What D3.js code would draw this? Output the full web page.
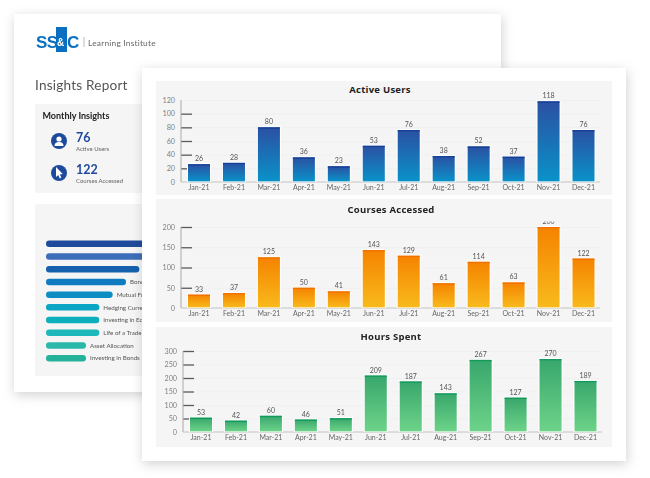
<!DOCTYPE html>
<html>
<head>
<meta charset="utf-8">
<script src="https://cdn.jsdelivr.net/npm/d3@7"></script>
<style>
html, body { margin: 0; padding: 0; background: #fff; }
svg { display: block; font-family: "Lato", sans-serif; filter: blur(0.3px); }
.axis path { display: none; }
.val { fill: #555; font-size: 7px; text-anchor: middle; }
.cat { fill: #666; font-size: 7px; text-anchor: middle; }
.title { fill: #222; font-size: 9.5px; font-weight: 700; letter-spacing: .25px; text-anchor: middle; font-family: "Open Sans", sans-serif; }
</style>
</head>
<body>
<svg id="chart" width="650" height="478"></svg>
<script>
var months = ["Jan-21","Feb-21","Mar-21","Apr-21","May-21","Jun-21","Jul-21","Aug-21","Sep-21","Oct-21","Nov-21","Dec-21"];
var activeUsers = [26,28,80,36,23,53,76,38,52,37,118,76];
var coursesAccessed = [33,37,125,50,41,143,129,61,114,63,200,122];
var hoursSpent = [53,42,60,46,51,209,187,143,267,127,270,189];

var courseNames = ["","","","Bonds","Mutual Funds","Hedging Currency","Investing in Equities","Life of a Trade","Asset Allocation","Investing in Bonds"];
var courseValues = [9,8,7,6,5,4,4,4,3,3];
var courseColors = ["#1f4b9c","#3d6eb9","#1561ae","#0f7bc0","#0d8dc4","#0ba5c6","#0bafbe","#1eb7ba","#2ab8a9","#25b299"];

var svg = d3.select("#chart");
var defs = svg.append("defs");

var shadow = defs.append("filter").attr("id","shadow")
  .attr("x","-10%").attr("y","-10%").attr("width","120%").attr("height","120%");
shadow.append("feDropShadow").attr("dx",1).attr("dy",3).attr("stdDeviation",6)
  .attr("flood-color","#000").attr("flood-opacity",.18);

function gradient(id, top, bottom) {
  var g = defs.append("linearGradient").attr("id",id).attr("x1",0).attr("y1",0).attr("x2",0).attr("y2",1);
  g.append("stop").attr("offset","0%").attr("stop-color",top);
  g.append("stop").attr("offset","100%").attr("stop-color",bottom);
}
gradient("blue","#2b50a3","#0a92c8");
gradient("orange","#f58300","#f8ba1c");
gradient("green","#38a76c","#6dd389");

// back page
svg.append("rect").attr("x",14).attr("y",14).attr("width",487).attr("height",378)
  .attr("fill","#fff").attr("filter","url(#shadow)");

// logo
svg.append("rect").attr("x",56).attr("y",27).attr("width",11).attr("height",25).attr("fill","#0a6fc0");
svg.append("text").attr("x",36).attr("y",48).attr("fill","#0a6fc0")
  .style("font-size","17px").style("font-weight",700).style("font-family","Liberation Sans").style("letter-spacing","-.6px").text("SS");
svg.append("text").attr("x",57).attr("y",46).attr("fill","#fff")
  .style("font-size","10px").style("font-weight",700).style("font-family","Liberation Sans").text("&");
svg.append("text").attr("x",67).attr("y",48).attr("fill","#0a6fc0")
  .style("font-size","17px").style("font-weight",700).style("font-family","Liberation Sans").text("C");
svg.append("line").attr("x1",84).attr("x2",84).attr("y1",37).attr("y2",47).attr("stroke","#bbb");
svg.append("text").attr("x",88).attr("y",45.5).attr("fill","#666").style("font-size","8.4px").style("letter-spacing",".2px").text("Learning Institute");

svg.append("text").attr("x",35).attr("y",90).attr("fill","#555").style("font-size","13.6px").style("letter-spacing",".2px").text("Insights Report");

// monthly insights panel
svg.append("rect").attr("x",35).attr("y",104).attr("width",440).attr("height",89).attr("fill","#f5f5f5");
svg.append("text").attr("x",42.5).attr("y",119).attr("fill","#222").style("font-size","9px").style("font-weight",700).text("Monthly Insights");

[[141,"76","Active Users"],[173,"122","Courses Accessed"]].forEach(function(d, i) {
  svg.append("circle").attr("cx",59).attr("cy",d[0]).attr("r",8).attr("fill","#1d4a9d");
  if (i == 0) {
    svg.append("circle").attr("cx",59).attr("cy",d[0]-2).attr("r",2.6).attr("fill","#fff");
    svg.append("path").attr("d","M54.5 146 q0 -4 4.5 -4 q4.5 0 4.5 4 z").attr("fill","#fff");
  } else {
    svg.append("path").attr("d","M56 167 l0 10 l2.2 -2 l1.6 3.4 l1.6 -.8 l-1.6 -3.2 l3 -.4 z").attr("fill","#fff");
  }
  svg.append("text").attr("x",76).attr("y",d[0]+.5).attr("fill","#1d4a9d").style("font-size","12.5px").style("font-weight",700).text(d[1]);
  svg.append("text").attr("x",76).attr("y",d[0]+9.5).attr("fill","#666").style("font-size","6px").text(d[2]);
});

// course list panel
svg.append("rect").attr("x",35).attr("y",204).attr("width",440).attr("height",172).attr("fill","#f5f5f5");
var courseX = d3.scaleLinear().domain([0,3]).range([46,86]);
var courseY = d3.scaleBand().domain(d3.range(courseValues.length)).range([237.5,364.5]);
svg.append("g").selectAll("rect").data(courseValues).enter().append("rect")
  .attr("x",courseX(0))
  .attr("y",function(d,i){ return courseY(i)+courseY.bandwidth()/2-3.25; })
  .attr("width",function(d){ return courseX(d)-courseX(0); })
  .attr("height",6.5).attr("rx",3.25)
  .attr("fill",function(d,i){ return courseColors[i]; });
svg.append("g").selectAll("text").data(courseValues).enter().append("text")
  .attr("x",function(d){ return courseX(d)+4; })
  .attr("y",function(d,i){ return courseY(i)+courseY.bandwidth()/2+2.3; })
  .attr("fill","#555").style("font-size","6.2px")
  .text(function(d,i){ return courseNames[i]; });

// front page
svg.append("rect").attr("x",142).attr("y",68).attr("width",484).attr("height",393)
  .attr("fill","#fff").attr("filter","url(#shadow)");

defs.append("clipPath").attr("id","clip200").append("rect")
  .attr("x",156).attr("y",221.5).attr("width",456).attr("height",100);

function barPanel(opt) {
  var g = svg.append("g");
  g.append("rect").attr("x",156).attr("y",opt.panelTop).attr("width",456).attr("height",opt.panelH).attr("fill","#f5f5f5");
  g.append("text").attr("class","title").attr("x",opt.titleX).attr("y",opt.titleY).text(opt.title);

  var x = d3.scaleBand().domain(months).range([opt.left, opt.left+420.5]).paddingInner(.37).paddingOuter(.2);
  var y = d3.scaleLinear().domain([0,opt.max]).range([opt.bottom,opt.top]);

  // grid
  g.append("g").attr("class","axis").attr("transform","translate("+opt.left+",0)")
    .call(d3.axisLeft(y).tickValues(opt.ticks.slice(1)).tickSize(-419).tickFormat(""))
    .selectAll("line").attr("stroke","#ececec").attr("stroke-width",.6);

  // short ticks and labels
  var ax = g.append("g").attr("class","axis").attr("transform","translate("+opt.left+",0)")
    .call(d3.axisLeft(y).tickValues(opt.ticks).tickSize(-11).tickPadding(6));
  ax.selectAll("line").attr("stroke",function(d){ return (d==0 || d==opt.noTick) ? "none" : "#5a5a5a"; }).attr("stroke-width",1.3);
  ax.selectAll("text").attr("fill","#808080").style("font-size","7.2px").style("font-family","Lato");

  g.append("line").attr("x1",opt.left).attr("x2",opt.left).attr("y1",opt.top).attr("y2",opt.bottom).attr("stroke","#aaa").attr("stroke-width",1);
  g.append("line").attr("x1",opt.left).attr("x2",opt.left+419).attr("y1",opt.bottom).attr("y2",opt.bottom).attr("stroke","#c4c4c4").attr("stroke-width",1.2);

  // bars
  var bars = g.selectAll(".bar").data(opt.values).enter().append("g");
  bars.append("rect")
    .attr("x",function(d,i){ return x(months[i])-1; })
    .attr("y",function(d){ return y(d)-1; })
    .attr("width",x.bandwidth()+2)
    .attr("height",function(d){ return opt.bottom-y(d)+1; })
    .attr("fill","#fff");
  bars.append("rect")
    .attr("x",function(d,i){ return x(months[i]); })
    .attr("y",function(d){ return y(d); })
    .attr("width",x.bandwidth())
    .attr("height",function(d){ return opt.bottom-y(d)-.6; })
    .attr("fill","url(#"+opt.grad+")");
  bars.append("rect")
    .attr("x",function(d,i){ return x(months[i]); })
    .attr("y",function(d){ return y(d); })
    .attr("width",x.bandwidth())
    .attr("height",1.3)
    .attr("fill",opt.cap);
  bars.append("text").attr("class","val")
    .attr("x",function(d,i){ return x(months[i])+x.bandwidth()/2; })
    .attr("y",function(d){ return y(d)-3; })
    .attr("clip-path",opt.clip ? "url(#"+opt.clip+")" : null)
    .text(function(d){ return d; });

  g.selectAll(".cat").data(months).enter().append("text").attr("class","cat")
    .attr("x",function(d){ return x(d)+x.bandwidth()/2; })
    .attr("y",opt.bottom+7.7)
    .text(function(d){ return d; });
}

barPanel({title:"Active Users", values:activeUsers, grad:"blue", cap:"#123f95", panelTop:81, panelH:114, titleX:380, titleY:93,
  left:181, top:100, bottom:182, max:120, ticks:[0,20,40,60,80,100,120], noTick:120});
barPanel({title:"Courses Accessed", values:coursesAccessed, grad:"orange", cap:"#f07000", panelTop:199, panelH:123, titleX:391, titleY:213,
  left:181, top:227, bottom:308, max:200, ticks:[0,50,100,150,200], clip:"clip200"});
barPanel({title:"Hours Spent", values:hoursSpent, grad:"green", cap:"#0f9a5c", panelTop:327, panelH:120, titleX:391, titleY:340,
  left:183, top:351, bottom:432, max:300, ticks:[0,50,100,150,200,250,300]});
</script>
</body>
</html>
